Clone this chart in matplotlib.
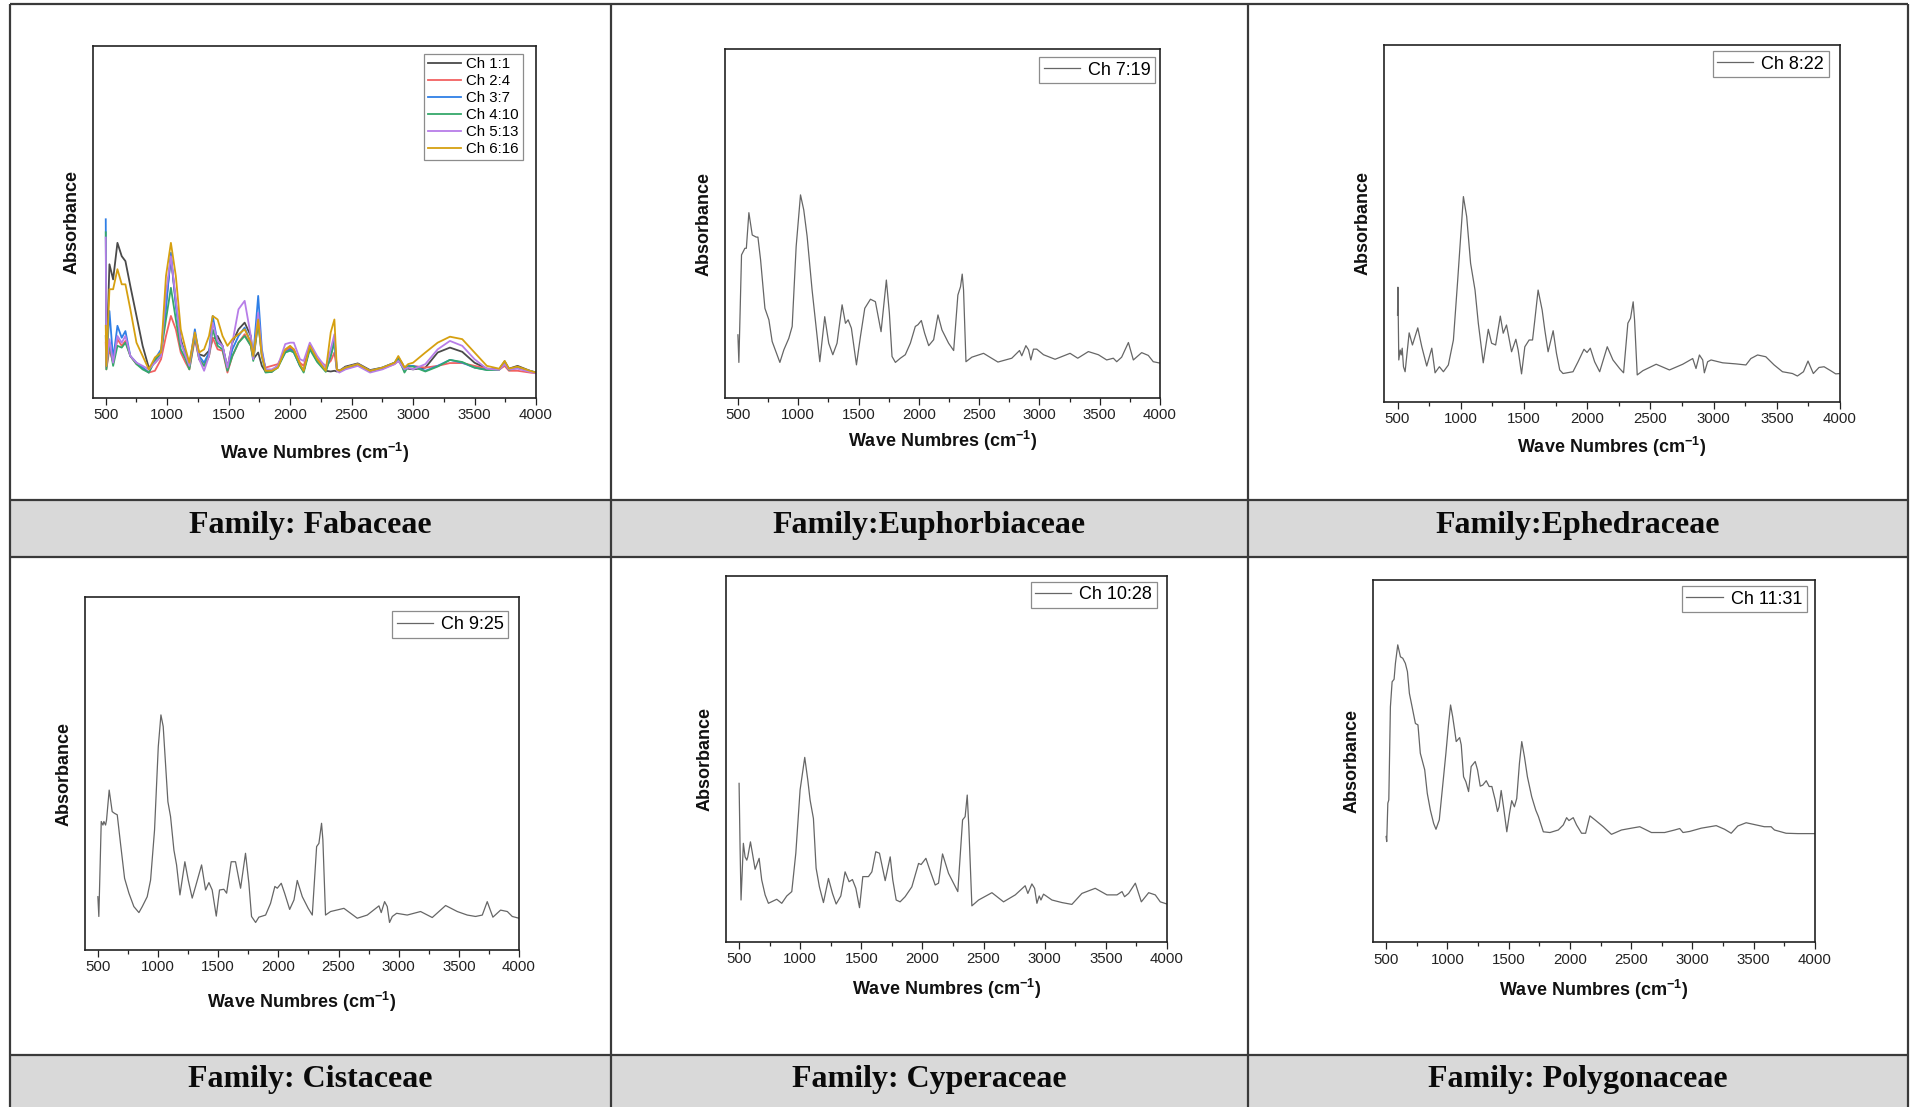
import matplotlib
matplotlib.use("Agg")
import matplotlib.pyplot as plt
from matplotlib.patches import Rectangle
from matplotlib.ticker import MultipleLocator

plt.rcParams['font.family'] = ['Liberation Sans', 'DejaVu Sans']
plt.rcParams['mathtext.fontset'] = 'custom'
plt.rcParams['mathtext.rm'] = 'Liberation Sans'
plt.rcParams['mathtext.bf'] = 'Liberation Sans:bold'
plt.rcParams['mathtext.it'] = 'Liberation Sans:italic'

# ---------------- FTIR spectra (absorbance, arbitrary units) ----------------
# Fabaceae: six chemotypes on a common wavenumber grid
fab_wn = [500, 505, 530, 560, 595, 630, 660, 700, 750, 800,
          850, 900, 950, 990, 1030, 1070, 1110, 1150, 1180, 1225,
          1260, 1300, 1340, 1370, 1410, 1450, 1490, 1530, 1580, 1630,
          1680, 1700, 1740, 1770, 1800, 1850, 1900, 1960, 2000, 2030,
          2080, 2110, 2160, 2220, 2290, 2330, 2360, 2380, 2400, 2450,
          2550, 2650, 2750, 2850, 2880, 2910, 2930, 2960, 3000, 3100,
          3200, 3300, 3400, 3500, 3600, 3700, 3745, 3780, 3850, 3950,
          4000]
fab_ch1 = [0.175, 0.090, 0.379, 0.336, 0.440, 0.402, 0.388, 0.317, 0.232, 0.147,
           0.085, 0.099, 0.118, 0.270, 0.398, 0.270, 0.166, 0.118, 0.090, 0.180,
           0.123, 0.118, 0.133, 0.166, 0.175, 0.147, 0.085, 0.156, 0.194, 0.213,
           0.175, 0.109, 0.128, 0.090, 0.073, 0.073, 0.090, 0.133, 0.142, 0.133,
           0.090, 0.076, 0.145, 0.104, 0.076, 0.074, 0.076, 0.074, 0.076, 0.088,
           0.097, 0.078, 0.085, 0.099, 0.114, 0.098, 0.085, 0.082, 0.080, 0.085,
           0.128, 0.142, 0.130, 0.099, 0.082, 0.080, 0.103, 0.082, 0.090, 0.076,
           0.071]
fab_ch2 = [0.156, 0.080, 0.137, 0.099, 0.166, 0.147, 0.161, 0.118, 0.095, 0.085,
           0.071, 0.076, 0.109, 0.175, 0.232, 0.194, 0.128, 0.099, 0.080, 0.166,
           0.109, 0.090, 0.118, 0.170, 0.137, 0.133, 0.071, 0.118, 0.156, 0.180,
           0.147, 0.109, 0.213, 0.118, 0.085, 0.090, 0.095, 0.133, 0.142, 0.137,
           0.099, 0.090, 0.147, 0.109, 0.090, 0.104, 0.128, 0.080, 0.076, 0.085,
           0.095, 0.076, 0.082, 0.095, 0.104, 0.092, 0.082, 0.088, 0.090, 0.085,
           0.090, 0.098, 0.098, 0.090, 0.082, 0.079, 0.090, 0.076, 0.076, 0.071,
           0.069]
fab_ch3 = [0.507, 0.090, 0.246, 0.109, 0.204, 0.170, 0.189, 0.118, 0.099, 0.085,
           0.071, 0.109, 0.137, 0.251, 0.412, 0.260, 0.156, 0.128, 0.090, 0.194,
           0.118, 0.099, 0.128, 0.232, 0.156, 0.147, 0.080, 0.137, 0.175, 0.199,
           0.156, 0.118, 0.289, 0.137, 0.080, 0.076, 0.090, 0.128, 0.137, 0.128,
           0.090, 0.076, 0.142, 0.104, 0.076, 0.118, 0.166, 0.080, 0.076, 0.085,
           0.095, 0.076, 0.085, 0.099, 0.109, 0.090, 0.076, 0.090, 0.090, 0.076,
           0.090, 0.107, 0.099, 0.085, 0.079, 0.080, 0.099, 0.080, 0.085, 0.076,
           0.071]
fab_ch4 = [0.470, 0.080, 0.156, 0.090, 0.147, 0.142, 0.156, 0.118, 0.095, 0.080,
           0.071, 0.104, 0.128, 0.222, 0.312, 0.222, 0.137, 0.109, 0.080, 0.175,
           0.109, 0.090, 0.118, 0.194, 0.147, 0.137, 0.076, 0.118, 0.156, 0.175,
           0.147, 0.104, 0.213, 0.118, 0.071, 0.073, 0.085, 0.128, 0.133, 0.128,
           0.090, 0.071, 0.137, 0.101, 0.073, 0.118, 0.156, 0.080, 0.074, 0.082,
           0.092, 0.074, 0.082, 0.098, 0.107, 0.088, 0.071, 0.088, 0.088, 0.074,
           0.088, 0.107, 0.101, 0.085, 0.078, 0.079, 0.098, 0.079, 0.084, 0.075,
           0.071]
fab_ch5 = [0.455, 0.090, 0.166, 0.099, 0.175, 0.156, 0.175, 0.118, 0.099, 0.090,
           0.080, 0.099, 0.118, 0.298, 0.402, 0.279, 0.156, 0.118, 0.090, 0.185,
           0.109, 0.076, 0.118, 0.213, 0.161, 0.147, 0.085, 0.156, 0.251, 0.275,
           0.175, 0.109, 0.241, 0.128, 0.080, 0.080, 0.090, 0.152, 0.156, 0.156,
           0.109, 0.104, 0.156, 0.118, 0.085, 0.137, 0.180, 0.076, 0.071, 0.080,
           0.090, 0.071, 0.080, 0.095, 0.104, 0.090, 0.080, 0.085, 0.080, 0.095,
           0.137, 0.161, 0.147, 0.109, 0.082, 0.079, 0.095, 0.080, 0.082, 0.073,
           0.069]
fab_ch6 = [0.204, 0.090, 0.308, 0.308, 0.365, 0.322, 0.322, 0.251, 0.156, 0.118,
           0.080, 0.114, 0.128, 0.346, 0.440, 0.346, 0.194, 0.137, 0.099, 0.185,
           0.128, 0.137, 0.175, 0.232, 0.222, 0.175, 0.147, 0.166, 0.180, 0.194,
           0.156, 0.118, 0.222, 0.118, 0.076, 0.076, 0.085, 0.137, 0.147, 0.137,
           0.095, 0.076, 0.147, 0.109, 0.076, 0.185, 0.222, 0.080, 0.076, 0.085,
           0.095, 0.076, 0.085, 0.099, 0.118, 0.099, 0.085, 0.095, 0.099, 0.128,
           0.156, 0.173, 0.166, 0.128, 0.090, 0.082, 0.104, 0.082, 0.088, 0.076,
           0.071]
fab_labels = ['Ch 1:1', 'Ch 2:4', 'Ch 3:7', 'Ch 4:10', 'Ch 5:13', 'Ch 6:16']
fab_colors = ['#4a4a4a', '#f26161', '#2f7fe6', '#35a86a', '#b77de8', '#d6a010']

# Single-chemotype families: (wavenumber, absorbance) pairs
euph_ch7 = [(500, 0.181), (508, 0.102), (530, 0.410), (558, 0.429), (570, 0.429),
            (591, 0.531), (619, 0.467), (652, 0.461), (666, 0.461), (688, 0.396),
            (724, 0.257), (757, 0.224), (784, 0.162), (848, 0.102), (881, 0.138),
            (922, 0.171), (950, 0.205), (983, 0.434), (1019, 0.582), (1046, 0.539),
            (1074, 0.463), (1115, 0.310), (1157, 0.176), (1179, 0.104), (1220, 0.233),
            (1253, 0.157), (1287, 0.124), (1322, 0.157), (1364, 0.267), (1392, 0.214),
            (1414, 0.224), (1441, 0.200), (1483, 0.095), (1516, 0.176), (1552, 0.257),
            (1599, 0.283), (1640, 0.276), (1687, 0.190), (1731, 0.338), (1756, 0.243),
            (1778, 0.119), (1806, 0.102), (1847, 0.114), (1888, 0.124), (1930, 0.157),
            (1971, 0.205), (1993, 0.210), (2021, 0.222), (2048, 0.186), (2082, 0.150),
            (2123, 0.167), (2159, 0.238), (2192, 0.195), (2247, 0.157), (2289, 0.136),
            (2324, 0.295), (2346, 0.319), (2360, 0.355), (2371, 0.310), (2391, 0.104),
            (2440, 0.117), (2537, 0.128), (2656, 0.103), (2771, 0.114), (2835, 0.136),
            (2854, 0.121), (2888, 0.150), (2910, 0.138), (2929, 0.109), (2951, 0.140),
            (2978, 0.140), (3034, 0.124), (3130, 0.111), (3254, 0.128), (3318, 0.114),
            (3406, 0.133), (3489, 0.124), (3558, 0.109), (3613, 0.114), (3641, 0.104),
            (3682, 0.117), (3738, 0.159), (3779, 0.109), (3848, 0.130), (3903, 0.122),
            (3944, 0.104), (4000, 0.100)]

ephe_ch8 = [(500, 0.243), (503, 0.321), (510, 0.117), (521, 0.145), (529, 0.131),
            (537, 0.150), (547, 0.098), (560, 0.084), (592, 0.193), (618, 0.159),
            (660, 0.207), (692, 0.154), (731, 0.100), (771, 0.150), (797, 0.081),
            (831, 0.098), (863, 0.084), (902, 0.103), (942, 0.173), (976, 0.341),
            (1021, 0.575), (1047, 0.519), (1078, 0.388), (1113, 0.313), (1139, 0.220),
            (1178, 0.109), (1218, 0.203), (1244, 0.164), (1276, 0.159), (1313, 0.240),
            (1336, 0.192), (1362, 0.215), (1402, 0.140), (1436, 0.175), (1454, 0.145),
            (1481, 0.078), (1507, 0.154), (1541, 0.173), (1568, 0.173), (1586, 0.229),
            (1612, 0.313), (1644, 0.257), (1665, 0.201), (1691, 0.140), (1731, 0.199),
            (1757, 0.136), (1783, 0.089), (1809, 0.079), (1888, 0.084), (1928, 0.112),
            (1975, 0.147), (1999, 0.138), (2025, 0.150), (2059, 0.112), (2099, 0.084),
            (2159, 0.154), (2204, 0.117), (2257, 0.093), (2288, 0.081), (2322, 0.220),
            (2343, 0.234), (2364, 0.280), (2375, 0.229), (2396, 0.075), (2441, 0.087),
            (2546, 0.105), (2651, 0.089), (2756, 0.105), (2835, 0.121), (2861, 0.093),
            (2888, 0.131), (2914, 0.117), (2927, 0.081), (2953, 0.112), (2980, 0.117),
            (3072, 0.109), (3177, 0.106), (3256, 0.103), (3295, 0.121), (3348, 0.131),
            (3413, 0.126), (3479, 0.103), (3545, 0.084), (3624, 0.079), (3663, 0.072),
            (3711, 0.084), (3747, 0.114), (3789, 0.079), (3834, 0.096), (3874, 0.098),
            (3926, 0.087), (3966, 0.078), (4000, 0.079)]

cist_ch9 = [(500, 0.151), (508, 0.095), (528, 0.364), (542, 0.354), (550, 0.364),
            (564, 0.354), (572, 0.368), (594, 0.453), (619, 0.392), (639, 0.387),
            (661, 0.383), (688, 0.302), (722, 0.203), (758, 0.161), (799, 0.123),
            (841, 0.106), (869, 0.123), (910, 0.151), (938, 0.198), (971, 0.340),
            (1002, 0.576), (1024, 0.666), (1043, 0.633), (1062, 0.529), (1082, 0.420),
            (1104, 0.378), (1132, 0.283), (1154, 0.241), (1182, 0.156), (1223, 0.250),
            (1251, 0.198), (1284, 0.147), (1312, 0.180), (1362, 0.241), (1395, 0.170),
            (1423, 0.191), (1450, 0.170), (1484, 0.096), (1511, 0.170), (1547, 0.172),
            (1570, 0.161), (1608, 0.250), (1644, 0.250), (1686, 0.175), (1727, 0.274),
            (1755, 0.189), (1777, 0.095), (1811, 0.078), (1838, 0.093), (1894, 0.099),
            (1935, 0.132), (1971, 0.180), (1991, 0.175), (2024, 0.189), (2052, 0.161),
            (2094, 0.115), (2130, 0.142), (2157, 0.197), (2199, 0.151), (2248, 0.118),
            (2282, 0.099), (2318, 0.293), (2337, 0.302), (2359, 0.359), (2370, 0.312),
            (2392, 0.099), (2434, 0.109), (2545, 0.118), (2656, 0.090), (2739, 0.099),
            (2836, 0.125), (2855, 0.106), (2883, 0.137), (2905, 0.123), (2924, 0.078),
            (2947, 0.095), (2983, 0.104), (3071, 0.099), (3182, 0.109), (3279, 0.092),
            (3390, 0.126), (3487, 0.109), (3570, 0.099), (3639, 0.095), (3695, 0.099),
            (3736, 0.137), (3783, 0.093), (3847, 0.113), (3903, 0.109), (3944, 0.095),
            (4000, 0.090)]

cype_ch10 = [(500, 0.433), (508, 0.260), (516, 0.114), (535, 0.269), (549, 0.232),
             (563, 0.223), (571, 0.232), (593, 0.273), (609, 0.242), (631, 0.198),
             (664, 0.228), (685, 0.169), (713, 0.128), (740, 0.105), (808, 0.116),
             (849, 0.105), (890, 0.125), (931, 0.137), (964, 0.242), (999, 0.415),
             (1037, 0.504), (1062, 0.442), (1081, 0.387), (1108, 0.337), (1130, 0.201),
             (1157, 0.150), (1190, 0.107), (1231, 0.173), (1264, 0.132), (1294, 0.103),
             (1332, 0.125), (1367, 0.191), (1400, 0.164), (1427, 0.170), (1455, 0.146),
             (1485, 0.093), (1512, 0.178), (1558, 0.178), (1586, 0.191), (1618, 0.246),
             (1648, 0.242), (1695, 0.167), (1736, 0.232), (1757, 0.169), (1785, 0.114),
             (1817, 0.109), (1858, 0.123), (1913, 0.150), (1968, 0.214), (1989, 0.211),
             (2028, 0.228), (2055, 0.201), (2104, 0.155), (2131, 0.160), (2164, 0.240),
             (2213, 0.187), (2254, 0.160), (2289, 0.137), (2328, 0.333), (2349, 0.342),
             (2366, 0.401), (2379, 0.315), (2404, 0.098), (2459, 0.114), (2568, 0.134),
             (2663, 0.109), (2759, 0.128), (2840, 0.153), (2862, 0.132), (2895, 0.158),
             (2917, 0.146), (2936, 0.105), (2955, 0.125), (2969, 0.114), (2990, 0.130),
             (3059, 0.114), (3141, 0.107), (3222, 0.102), (3304, 0.132), (3413, 0.146),
             (3509, 0.128), (3591, 0.128), (3632, 0.137), (3653, 0.123), (3686, 0.132),
             (3741, 0.160), (3790, 0.109), (3850, 0.134), (3904, 0.128), (3945, 0.109),
             (4000, 0.103)]

poly_ch11 = [(500, 0.292), (505, 0.278), (514, 0.384), (522, 0.393), (535, 0.650),
             (549, 0.719), (565, 0.726), (576, 0.770), (595, 0.821), (617, 0.788),
             (636, 0.784), (657, 0.770), (674, 0.747), (690, 0.687), (712, 0.650),
             (739, 0.604), (760, 0.600), (779, 0.522), (815, 0.476), (836, 0.411),
             (861, 0.365), (888, 0.328), (907, 0.312), (934, 0.338), (961, 0.430),
             (988, 0.522), (1010, 0.604), (1026, 0.655), (1043, 0.623), (1059, 0.586),
             (1072, 0.554), (1100, 0.565), (1113, 0.545), (1132, 0.457), (1151, 0.443),
             (1173, 0.416), (1194, 0.485), (1227, 0.499), (1246, 0.476), (1268, 0.431),
             (1289, 0.434), (1317, 0.446), (1341, 0.430), (1363, 0.430), (1390, 0.393),
             (1409, 0.361), (1422, 0.374), (1439, 0.419), (1458, 0.374), (1485, 0.305),
             (1507, 0.356), (1525, 0.391), (1547, 0.374), (1566, 0.397), (1588, 0.494),
             (1607, 0.554), (1629, 0.512), (1653, 0.457), (1688, 0.402), (1721, 0.365),
             (1743, 0.347), (1783, 0.305), (1837, 0.303), (1905, 0.310), (1946, 0.324),
             (1973, 0.344), (1992, 0.336), (2027, 0.344), (2054, 0.324), (2095, 0.301),
             (2128, 0.301), (2163, 0.349), (2204, 0.338), (2272, 0.319), (2339, 0.298),
             (2421, 0.310), (2502, 0.315), (2570, 0.319), (2665, 0.303), (2773, 0.303),
             (2855, 0.310), (2896, 0.314), (2923, 0.303), (2977, 0.306), (3072, 0.315),
             (3194, 0.322), (3262, 0.312), (3316, 0.301), (3370, 0.321), (3438, 0.330),
             (3519, 0.324), (3587, 0.319), (3642, 0.319), (3669, 0.310), (3764, 0.301),
             (3859, 0.300), (4000, 0.300)]

families = ['Family: Fabaceae', 'Family:Euphorbiaceae', 'Family:Ephedraceae',
            'Family: Cistaceae', 'Family: Cyperaceae', 'Family: Polygonaceae']

# ---------------- page layout (pixels) ----------------
W, H = 1910, 1107
fig = plt.figure(figsize=(W / 100, H / 100), dpi=100)

bg = fig.add_axes([0, 0, 1, 1], zorder=0)
bg.set_xlim(0, W)
bg.set_ylim(H, 0)
bg.axis('off')

x_left, x_right = 10, 1908
col_edges = [x_left, 610.5, 1248, x_right]
bands = [(500, 557), (1055, 1107)]
rule = dict(color='#3a3a3a', lw=1.6, solid_capstyle='butt')
for top, bot in bands:
    bg.add_patch(Rectangle((x_left, top), x_right - x_left, bot - top,
                           facecolor='#d9d9d9', edgecolor='none'))
for y in [4, 500, 557, 1055]:
    bg.plot([x_left, x_right], [y, y], **rule)
for x in col_edges:
    bg.plot([x, x], [4, H], **rule)

label_y = [526, 1079]
for i, name in enumerate(families):
    r, c = divmod(i, 3)
    cx = (col_edges[c] + col_edges[c + 1]) / 2
    bg.text(cx, label_y[r], name, ha='center', va='center',
            fontfamily='Liberation Serif', fontweight='bold', fontsize=23,
            color='#0a0a0a')

# axes boxes: (left, top, right, bottom) in pixels, legend anchor, xlabel pad
boxes = [(92.6, 46, 536, 397.5), (725, 49, 1160, 398), (1384, 45, 1840, 401.7),
         (85, 597, 519, 950), (726, 576, 1167, 941.7), (1373, 580, 1815, 942.3)]
legend_anchor = [(0.970, 0.978), (0.989, 0.977), (0.975, 0.983),
                 (0.975, 0.959), (0.977, 0.984), (0.981, 0.983)]
xlabel_pad = [14, 5, 6, 11, 8, 8]


def make_axes(box):
    l, t, r, b = box
    return fig.add_axes([l / W, 1 - b / H, (r - l) / W, (b - t) / H], zorder=2)


def style_axes(ax, pad):
    ax.set_xlim(393, 4000)
    ax.set_ylim(0, 1)
    ax.set_yticks([])
    ax.xaxis.set_major_locator(MultipleLocator(500))
    ax.xaxis.set_minor_locator(MultipleLocator(250))
    ax.tick_params(axis='x', which='major', direction='out', length=5, width=0.9,
                   labelsize=10.8, pad=2.5, colors='#222222')
    ax.tick_params(axis='x', which='minor', direction='out', length=3, width=0.9,
                   colors='#222222')
    for s in ax.spines.values():
        s.set_linewidth(1.2)
        s.set_color('#222222')
    ax.set_xlabel(r'Wave Numbres (cm$^{\mathbf{-1}}$)', fontsize=13,
                  fontweight='bold', labelpad=pad, color='#111111')
    ax.set_ylabel('Absorbance', fontsize=13, fontweight='bold', labelpad=9,
                  color='#111111')


def add_legend(ax, anchor, size, hl, tp, ls):
    leg = ax.legend(loc='upper right', bbox_to_anchor=anchor, borderaxespad=0,
                    fontsize=size, handlelength=hl, handletextpad=tp,
                    labelspacing=ls, borderpad=0.25, fancybox=False,
                    framealpha=1, edgecolor='#8c8c8c')
    leg.get_frame().set_linewidth(0.9)


# Fabaceae (overlay of six chemotypes)
ax = make_axes(boxes[0])
for ys, lab, col in zip([fab_ch1, fab_ch2, fab_ch3, fab_ch4, fab_ch5, fab_ch6],
                        fab_labels, fab_colors):
    ax.plot(fab_wn, ys, color=col, lw=1.3, label=lab)
style_axes(ax, xlabel_pad[0])
add_legend(ax, legend_anchor[0], 10.8, 2.2, 0.35, 0.2)

# Remaining families, one chemotype each
singles = [(euph_ch7, 'Ch 7:19'), (ephe_ch8, 'Ch 8:22'), (cist_ch9, 'Ch 9:25'),
           (cype_ch10, 'Ch 10:28'), (poly_ch11, 'Ch 11:31')]
for k, (spec, lab) in enumerate(singles, start=1):
    ax = make_axes(boxes[k])
    wn, ab = zip(*spec)
    ax.plot(wn, ab, color='#666666', lw=0.9, label=lab)
    style_axes(ax, xlabel_pad[k])
    add_legend(ax, legend_anchor[k], 13, 2.0, 0.45, 0.2)

fig.savefig('out.png', dpi=100)
